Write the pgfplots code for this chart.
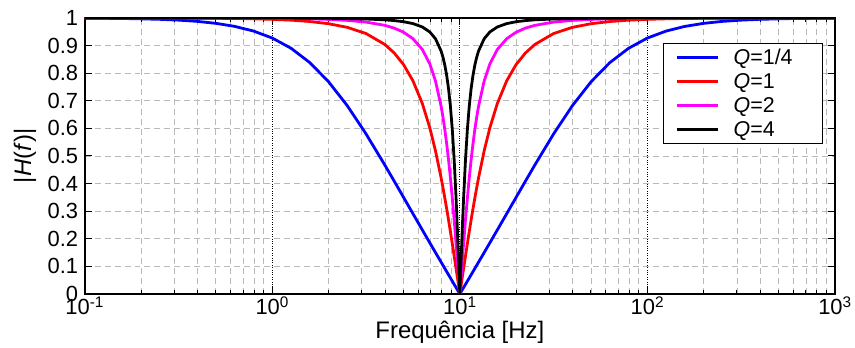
\documentclass[border=0pt]{standalone}
\usepackage{fontspec}
\setmainfont{Liberation Sans}
\usepackage{pgfplots}
\pgfplotsset{compat=1.18}
\definecolor{gridgray}{RGB}{185,185,185}
\definecolor{cblue}{RGB}{0,0,255}
\definecolor{cred}{RGB}{255,0,0}
\definecolor{cmag}{RGB}{255,0,255}
\begin{document}
\begin{tikzpicture}
\begin{axis}[
  name=ax,
  scale only axis,
  width=753pt, height=277pt,
  xmode=log,
  xmin=0.1, xmax=1000, ymin=0, ymax=1,
  xtick={0.1,1,10,100,1000},
  xticklabels={10\textsuperscript{-1},10\textsuperscript{0},10\textsuperscript{1},10\textsuperscript{2},10\textsuperscript{3}},
  minor xtick={0.2,0.3,0.4,0.5,0.6,0.7,0.8,0.9,2,3,4,5,6,7,8,9,20,30,40,50,60,70,80,90,200,300,400,500,600,700,800,900},
  ytick={0,0.1,0.2,0.3,0.4,0.5,0.6,0.7,0.8,0.9,1},
  yticklabels={0,0.1,0.2,0.3,0.4,0.5,0.6,0.7,0.8,0.9,1},
  /pgf/number format/assume math mode=true,
  tick label style={font=\fontsize{22}{24}\selectfont},
  yticklabel style={xshift=-3pt},
  xticklabel style={yshift=1pt},
  every axis x label/.style={at={(axis description cs:0.5,0)}, yshift=-45pt, anchor=base, font=\fontsize{24}{26}\selectfont},
  every axis y label/.style={at={(axis description cs:0,0.5)}, xshift=-60pt, rotate=90, anchor=center, font=\fontsize{24}{26}\selectfont},
  xlabel={Frequência [Hz]},
  ylabel={|\textit{H}(\textit{f})|},
  tick align=inside,
  major tick length=7pt, minor tick length=4pt,
  every tick/.style={black, line width=0.9pt},
  axis line style={line width=2pt},
  grid=both,
  major x grid style={black, dotted, line width=0.8pt},
  minor x grid style={gridgray, dash pattern=on 6pt off 4pt, line width=0.8pt},
  major y grid style={gridgray, dash pattern=on 6pt off 4pt, line width=0.8pt},
  legend style={at={(0.984,0.9097)}, anchor=north east, font=\fontsize{21.5}{23}\selectfont, draw=black, line width=1.2pt, inner xsep=12pt, inner ysep=2pt, row sep=0pt, column sep=0pt,
    nodes={inner xsep=0pt, inner ysep=0pt, text width=77pt, text height=19.5pt, text depth=4.5pt}},
  legend cell align=left,
  legend image code/.code={\draw[#1] (0pt,0pt) -- (42pt,0pt); \path (0pt,0pt) (56pt,0pt);},
  every axis plot/.append style={line width=2.8pt},
  clip=true,
]
\addplot[cblue] coordinates {
(0.1,0.999201)(0.14125,0.998407)(0.17783,0.997478)(0.25119,0.994983)(0.31623,0.992080)(0.39811,0.987518)(0.50119,0.980393)(0.63096,0.969363)(0.79433,0.952494)(1,0.927179)(1.2589,0.890210)(1.5849,0.838331)(1.9953,0.769026)(2.5119,0.681981)(3.1623,0.579741)(3.9811,0.467220)(4.4668,0.408853)(5.0119,0.349907)(5.6234,0.290843)(6.3096,0.231978)(6.9183,0.185145)(7.4131,0.150190)(7.9433,0.115373)(8.5114,0.080676)(8.9125,0.057596)(9.3325,0.034546)(9.7724,0.011513)
(10,0)
(10.2329,0.011513)(10.7152,0.034546)(11.2202,0.057596)(11.7490,0.080676)(12.5893,0.115373)(13.4896,0.150190)(14.4544,0.185145)(15.8489,0.231978)(17.7828,0.290843)(19.9526,0.349907)(22.3872,0.408853)(25.1189,0.467220)(31.6228,0.579741)(39.8107,0.681981)(50.1187,0.769026)(63.0957,0.838331)(79.4328,0.890210)(100,0.927179)(125.893,0.952494)(158.489,0.969363)(199.526,0.980393)(251.189,0.987518)(316.228,0.992080)(398.107,0.994983)(562.341,0.997478)(707.946,0.998407)(1000,0.999201)
};
\addlegendentry{\textit{Q}=1/4}
\addplot[cred] coordinates {
(0.1,0.99995)(0.31623,0.999499)(0.50119,0.998741)(0.63096,0.997999)(0.79433,0.996820)(1,0.994937)(1.2589,0.991982)(1.5849,0.987041)(1.9953,0.979085)(2.5119,0.965888)(3.1623,0.943456)(3.9811,0.903946)(4.4668,0.873246)(5.0119,0.831035)(5.6234,0.772352)(6.3096,0.690065)(6.9183,0.601844)(7.4131,0.519297)(7.9433,0.421343)(8.1283,0.385226)(8.3176,0.347426)(8.5114,0.308019)(8.7096,0.267118)(8.9125,0.224858)(9.1201,0.181407)(9.3325,0.136963)(9.5499,0.091747)(9.7724,0.046007)(9.8855,0.023021)
(10,0)
(10.1158,0.023021)(10.2329,0.046007)(10.4713,0.091747)(10.7152,0.136963)(10.9648,0.181407)(11.2202,0.224858)(11.4815,0.267118)(11.7490,0.308019)(12.0226,0.347426)(12.3027,0.385226)(12.5893,0.421343)(13.4896,0.519297)(14.4544,0.601844)(15.8489,0.690065)(17.7828,0.772352)(19.9526,0.831035)(22.3872,0.873246)(25.1189,0.903946)(31.6228,0.943456)(39.8107,0.965888)(50.1187,0.979085)(63.0957,0.987041)(79.4328,0.991982)(100,0.994937)(125.893,0.996820)(158.489,0.997999)(199.526,0.998741)(316.228,0.999499)(1000,0.99995)
};
\addlegendentry{\textit{Q}=1}
\addplot[cmag] coordinates {
(0.1,0.99999)(0.31623,0.999875)(0.63096,0.999499)(1,0.998727)(1.2589,0.997961)(1.5849,0.996712)(1.9953,0.994645)(2.5119,0.991134)(3.1623,0.984916)(3.9811,0.973145)(4.4668,0.963211)(5.0119,0.948290)(5.6234,0.924856)(6.3096,0.885707)(6.9183,0.833277)(7.4131,0.772192)(7.9433,0.680696)(8.1283,0.640885)(8.3176,0.595364)(8.5114,0.543523)(8.7096,0.484857)(8.9125,0.419054)(9.1201,0.346129)(9.3325,0.266529)(9.5499,0.181221)(9.6605,0.136883)(9.7724,0.091724)(9.8855,0.046005)
(10,0)
(10.1158,0.046005)(10.2329,0.091724)(10.3514,0.136883)(10.4713,0.181221)(10.7152,0.266529)(10.9648,0.346129)(11.2202,0.419054)(11.4815,0.484857)(11.7490,0.543523)(12.0226,0.595364)(12.3027,0.640885)(12.5893,0.680696)(13.4896,0.772192)(14.4544,0.833277)(15.8489,0.885707)(17.7828,0.924856)(19.9526,0.948290)(22.3872,0.963211)(25.1189,0.973145)(31.6228,0.984916)(39.8107,0.991134)(50.1187,0.994645)(63.0957,0.996712)(79.4328,0.997961)(100,0.998727)(158.489,0.999499)(316.228,0.999875)(1000,0.99999)
};
\addlegendentry{\textit{Q}=2}
\addplot[black] coordinates {
(0.1,1)(1,0.999681)(1.5849,0.999175)(1.9953,0.998652)(2.5119,0.997758)(3.1623,0.996179)(3.9811,0.993126)(4.4668,0.990409)(5.0119,0.986288)(5.6234,0.979512)(6.3096,0.967333)(6.9183,0.949137)(7.4131,0.924789)(7.9433,0.880603)(8.1283,0.857913)(8.3176,0.828941)(8.5114,0.791497)(8.7096,0.742589)(8.9125,0.678277)(9.1201,0.593733)(9.3325,0.483977)(9.5499,0.345807)(9.6605,0.266381)(9.7724,0.181175)(9.8855,0.091720)
(10,0)
(10.1158,0.091720)(10.2329,0.181175)(10.3514,0.266381)(10.4713,0.345807)(10.7152,0.483977)(10.9648,0.593733)(11.2202,0.678277)(11.4815,0.742589)(11.7490,0.791497)(12.0226,0.828941)(12.3027,0.857913)(12.5893,0.880603)(13.4896,0.924789)(14.4544,0.949137)(15.8489,0.967333)(17.7828,0.979512)(19.9526,0.986288)(22.3872,0.990409)(25.1189,0.993126)(31.6228,0.996179)(39.8107,0.997758)(50.1187,0.998652)(63.0957,0.999175)(100,0.999681)(1000,1)
};
\addlegendentry{\textit{Q}=4}
\end{axis}
\path ([xshift=-85pt,yshift=18pt]ax.north west) ([xshift=17pt,yshift=-54pt]ax.south east);
\end{tikzpicture}
\end{document}
